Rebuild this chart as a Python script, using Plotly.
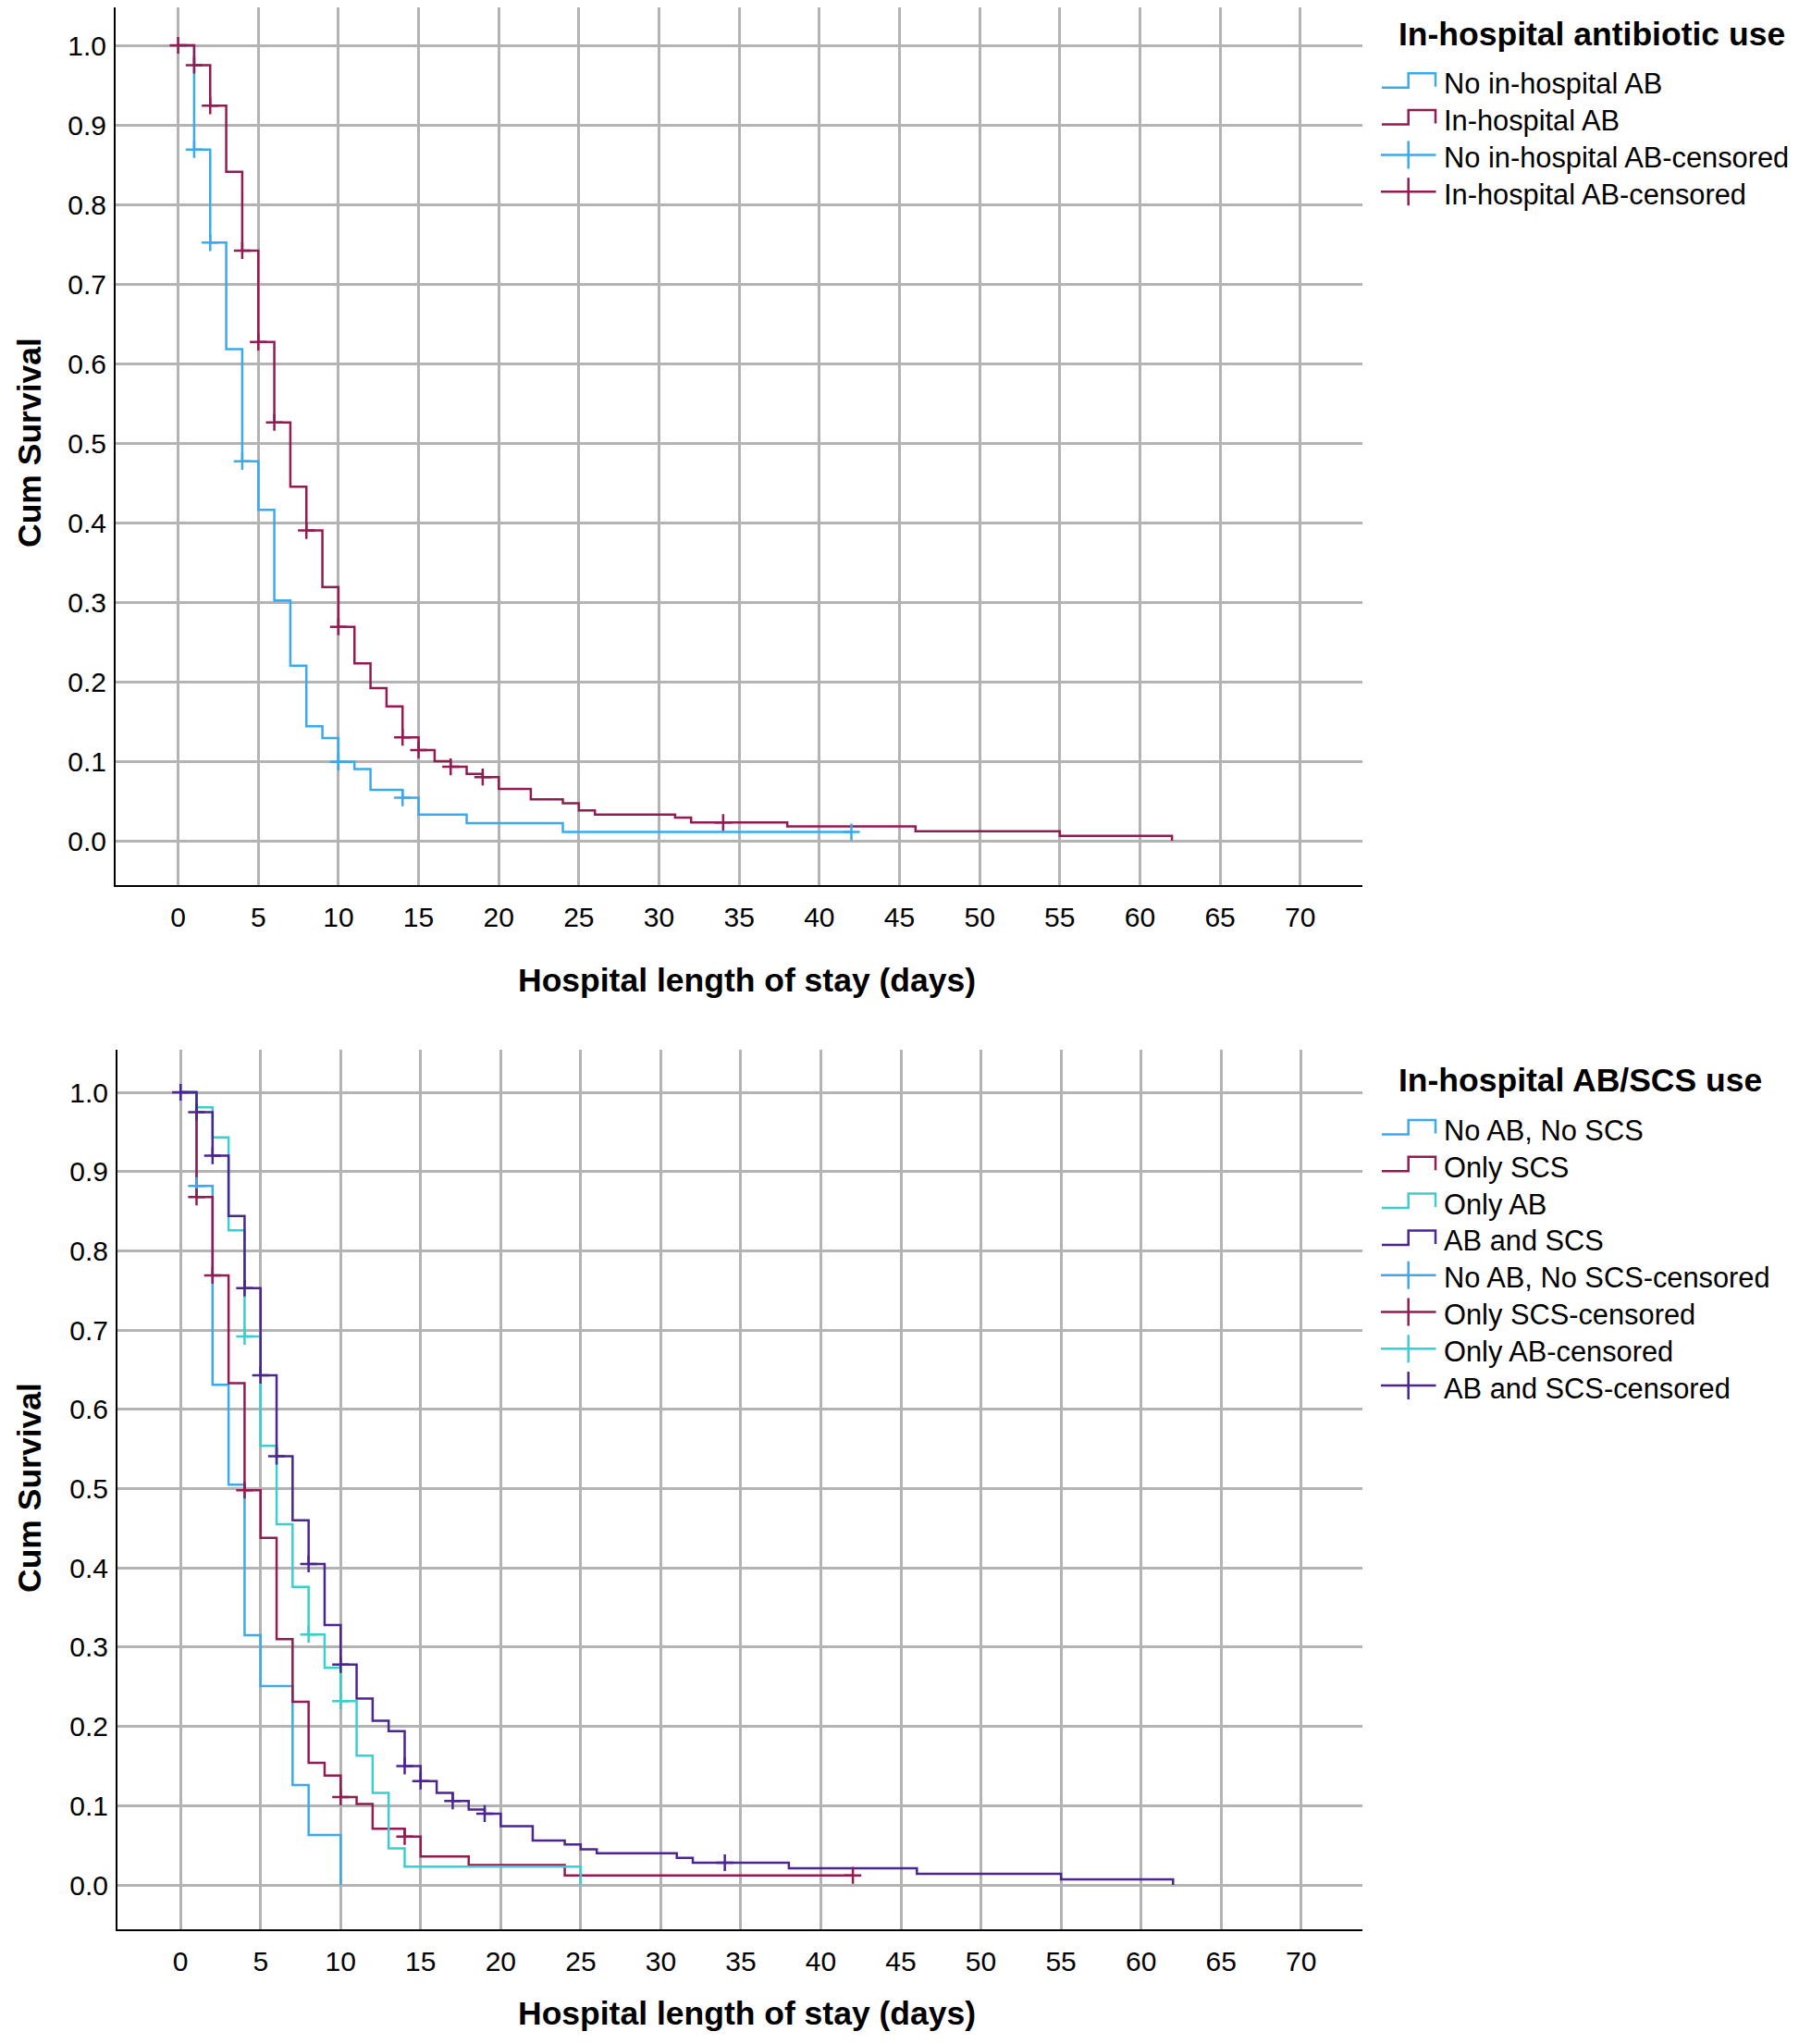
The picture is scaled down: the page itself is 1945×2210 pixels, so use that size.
import plotly.graph_objects as go

# page body has an 8px default margin, so the figure is drawn 8px in
OFF = 8
W, H = 1945 - 2 * OFF, 2210 - 2 * OFF

# ---------------- data: top panel (in-hospital antibiotic use) ----------------
top_groups = ["No in-hospital AB", "In-hospital AB"]
top_colors = ["#3BA9EB", "#921B52"]

top_noab_days = [0, 1, 2, 3, 4, 5, 6, 7, 8, 9, 10, 11, 12, 14, 15, 18, 24, 42]
top_noab_surv = [1.0, 0.869, 0.752, 0.618, 0.477, 0.416, 0.302, 0.220, 0.144, 0.129,
                 0.099, 0.090, 0.064, 0.054, 0.033, 0.022, 0.011, 0.011]
top_noab_cens_days = [1, 2, 4, 10, 14, 42]
top_noab_cens_surv = [0.869, 0.752, 0.477, 0.099, 0.054, 0.011]

top_ab_days = [0, 1, 2, 3, 4, 5, 6, 7, 8, 9, 10, 11, 12, 13, 14, 15, 16, 17, 18, 19,
               20, 22, 24, 25, 26, 31, 32, 38, 46, 55, 62]
top_ab_surv = [1.0, 0.975, 0.924, 0.841, 0.742, 0.627, 0.526, 0.445, 0.390, 0.319,
               0.269, 0.223, 0.192, 0.169, 0.130, 0.114, 0.100, 0.093, 0.084, 0.080,
               0.065, 0.052, 0.047, 0.038, 0.033, 0.029, 0.023, 0.018, 0.012, 0.006, 0.0]
top_ab_cens_days = [0, 1, 2, 4, 5, 6, 8, 10, 14, 15, 17, 19, 34]
top_ab_cens_surv = [1.0, 0.975, 0.924, 0.742, 0.627, 0.526, 0.390, 0.269, 0.130, 0.114,
                    0.093, 0.080, 0.023]

# ---------------- data: bottom panel (AB/SCS use) ----------------
bot_groups = ["No AB, No SCS", "Only SCS", "Only AB", "AB and SCS"]
bot_colors = ["#3BA9EB", "#921B52", "#3ACECE", "#4B2590"]

none_days = [0, 1, 2, 3, 4, 5, 7, 8, 10]
none_surv = [1.0, 0.882, 0.631, 0.505, 0.315, 0.251, 0.126, 0.063, 0.0]
none_cens_days = [1]
none_cens_surv = [0.882]

scs_days = [0, 1, 2, 3, 4, 5, 6, 7, 8, 9, 10, 11, 12, 14, 15, 18, 24, 42]
scs_surv = [1.0, 0.868, 0.769, 0.633, 0.498, 0.438, 0.310, 0.231, 0.154, 0.138,
            0.111, 0.102, 0.071, 0.061, 0.036, 0.025, 0.012, 0.012]
scs_cens_days = [1, 2, 4, 10, 14, 42]
scs_cens_surv = [0.868, 0.769, 0.498, 0.111, 0.061, 0.012]

ab_days = [0, 1, 2, 3, 4, 5, 6, 7, 8, 9, 10, 11, 12, 13, 14, 25]
ab_surv = [1.0, 0.981, 0.943, 0.826, 0.692, 0.554, 0.455, 0.376, 0.316, 0.274,
           0.232, 0.163, 0.116, 0.046, 0.023, 0.0]
ab_cens_days = [4, 8, 10]
ab_cens_surv = [0.692, 0.316, 0.232]

both_days = [0, 1, 2, 3, 4, 5, 6, 7, 8, 9, 10, 11, 12, 13, 14, 15, 16, 17, 18, 19,
             20, 22, 24, 25, 26, 31, 32, 38, 46, 55, 62]
both_surv = [1.0, 0.975, 0.920, 0.844, 0.753, 0.643, 0.541, 0.460, 0.405, 0.328,
             0.278, 0.235, 0.207, 0.194, 0.150, 0.131, 0.116, 0.106, 0.095, 0.090,
             0.074, 0.056, 0.051, 0.045, 0.040, 0.034, 0.028, 0.021, 0.014, 0.007, 0.0]
both_cens_days = [0, 1, 2, 4, 5, 6, 8, 10, 14, 15, 17, 19, 34]
both_cens_surv = [1.0, 0.975, 0.920, 0.753, 0.643, 0.541, 0.405, 0.278, 0.150, 0.131,
                  0.106, 0.090, 0.028]

x_tick_vals = [0, 5, 10, 15, 20, 25, 30, 35, 40, 45, 50, 55, 60, 65, 70]
x_tick_text = ["0", "5", "10", "15", "20", "25", "30", "35", "40", "45", "50", "55",
               "60", "65", "70"]
y_tick_vals = [0.0, 0.1, 0.2, 0.3, 0.4, 0.5, 0.6, 0.7, 0.8, 0.9, 1.0]
y_tick_text = ["0.0", "0.1", "0.2", "0.3", "0.4", "0.5", "0.6", "0.7", "0.8", "0.9", "1.0"]

x_title = "Hospital length of stay (days)"
y_title = "Cum Survival"
top_legend_title = "In-hospital antibiotic use"
bot_legend_title = "In-hospital AB/SCS use"

FONT = "Liberation Sans, Arial, Helvetica, sans-serif"
LW = 2.5
TITLE_SIZE = 35.5
LEGEND_SIZE = 30.8
TICK_SIZE = 30


def px(x):
    return (x - OFF) / W


def py(y):
    return 1 - (y - OFF) / H


fig = go.Figure()

top_series = [
    (top_noab_days, top_noab_surv, top_noab_cens_days, top_noab_cens_surv),
    (top_ab_days, top_ab_surv, top_ab_cens_days, top_ab_cens_surv),
]
bot_series = [
    (none_days, none_surv, none_cens_days, none_cens_surv),
    (scs_days, scs_surv, scs_cens_days, scs_cens_surv),
    (ab_days, ab_surv, ab_cens_days, ab_cens_surv),
    (both_days, both_surv, both_cens_days, both_cens_surv),
]


def add_panel(series, colors, names, xa, ya):
    for (d, s, cd, cs), c, n in zip(series, colors, names):
        fig.add_trace(go.Scatter(x=d, y=s, mode="lines", name=n,
                                 line=dict(shape="hv", color=c, width=LW),
                                 xaxis=xa, yaxis=ya, showlegend=False))
    for (d, s, cd, cs), c, n in zip(series, colors, names):
        fig.add_trace(go.Scatter(x=cd, y=cs, mode="markers", name=n + "-censored",
                                 marker=dict(symbol="cross-thin", size=13, color=c,
                                             line=dict(width=LW, color=c)),
                                 xaxis=xa, yaxis=ya, showlegend=False))


add_panel(top_series, top_colors, top_groups, "x", "y")
add_panel(bot_series, bot_colors, bot_groups, "x2", "y2")

axis_common = dict(showline=True, linecolor="black", linewidth=2, mirror=False,
                   showgrid=True, gridcolor="#B3B3B3", gridwidth=2.5, zeroline=False,
                   tickfont=dict(family=FONT, size=TICK_SIZE, color="black"),
                   ticks="outside", tickcolor="rgba(0,0,0,0)")

fig.update_layout(
    width=W, height=H,
    margin=dict(l=0, r=0, t=0, b=0),
    paper_bgcolor="white", plot_bgcolor="white",
    showlegend=False,
    font=dict(family=FONT, color="black"),
    xaxis=dict(domain=[px(125), px(1473)], range=[-3.9, 73.88], anchor="y",
               tickvals=x_tick_vals, ticktext=x_tick_text, ticklen=7, **axis_common),
    yaxis=dict(domain=[py(957), 1.0], range=[-0.0558, 1.0535 - 0.0 * 0],
               anchor="x", tickvals=y_tick_vals, ticktext=y_tick_text, ticklen=2,
               **axis_common),
    xaxis2=dict(domain=[px(127), px(1473)], range=[-3.94, 73.83], anchor="y2",
                tickvals=x_tick_vals, ticktext=x_tick_text, ticklen=7, **axis_common),
    yaxis2=dict(domain=[py(2086), py(1135)], range=[-0.056, 1.0537], anchor="x2",
                tickvals=y_tick_vals, ticktext=y_tick_text, ticklen=2, **axis_common),
)
# top panel: its plot area starts at the figure's top; keep the same value scale
top_span_px = 957 - OFF
fig.layout.yaxis.range = [-0.0558, -0.0558 + (957 - OFF) / 860.0]

annotations = []
shapes = []

# axis titles
for yc in (1060, 2177):
    annotations.append(dict(text="<b>%s</b>" % x_title, x=px(807), y=py(yc),
                            xref="paper", yref="paper", xanchor="center", yanchor="middle",
                            showarrow=False,
                            font=dict(family=FONT, size=TITLE_SIZE, color="black")))
for yc in (479, 1609):
    annotations.append(dict(text="<b>%s</b>" % y_title, x=px(32), y=py(yc),
                            xref="paper", yref="paper", xanchor="center", yanchor="middle",
                            textangle=-90, showarrow=False,
                            font=dict(family=FONT, size=TITLE_SIZE, color="black")))


def add_legend(title, title_y, names, colors, first_y, step=39.8):
    annotations.append(dict(text="<b>%s</b>" % title, x=px(1510), y=py(title_y),
                            xref="paper", yref="paper", xanchor="left", yanchor="middle",
                            showarrow=False,
                            font=dict(family=FONT, size=TITLE_SIZE, color="black")))
    entries = [(n, c, "step") for n, c in zip(names, colors)] + \
              [(n + "-censored", c, "cross") for n, c in zip(names, colors)]
    for i, (label, c, kind) in enumerate(entries):
        yc = first_y + i * step
        if kind == "step":
            path = "M %f %f L %f %f L %f %f L %f %f L %f %f" % (
                px(1494), py(yc + 4), px(1522.7), py(yc + 4), px(1522.7), py(yc - 11.5),
                px(1552), py(yc - 11.5), px(1552), py(yc + 3))
            shapes.append(dict(type="path", path=path, xref="paper", yref="paper",
                               line=dict(color=c, width=LW)))
        else:
            cy = yc - 3
            shapes.append(dict(type="line", xref="paper", yref="paper",
                               x0=px(1493), x1=px(1552.5), y0=py(cy), y1=py(cy),
                               line=dict(color=c, width=LW)))
            shapes.append(dict(type="line", xref="paper", yref="paper",
                               x0=px(1522.7), x1=px(1522.7), y0=py(cy - 15), y1=py(cy + 15),
                               line=dict(color=c, width=LW)))
        annotations.append(dict(text=label, x=px(1559), y=py(yc), xref="paper", yref="paper",
                                xanchor="left", yanchor="middle", showarrow=False,
                                font=dict(family=FONT, size=LEGEND_SIZE, color="black")))


add_legend(top_legend_title, 37, top_groups, top_colors, 90.8)
add_legend(bot_legend_title, 1168, bot_groups, bot_colors, 1222.5)

fig.update_layout(annotations=annotations, shapes=shapes)

fig.write_html("out.html")
